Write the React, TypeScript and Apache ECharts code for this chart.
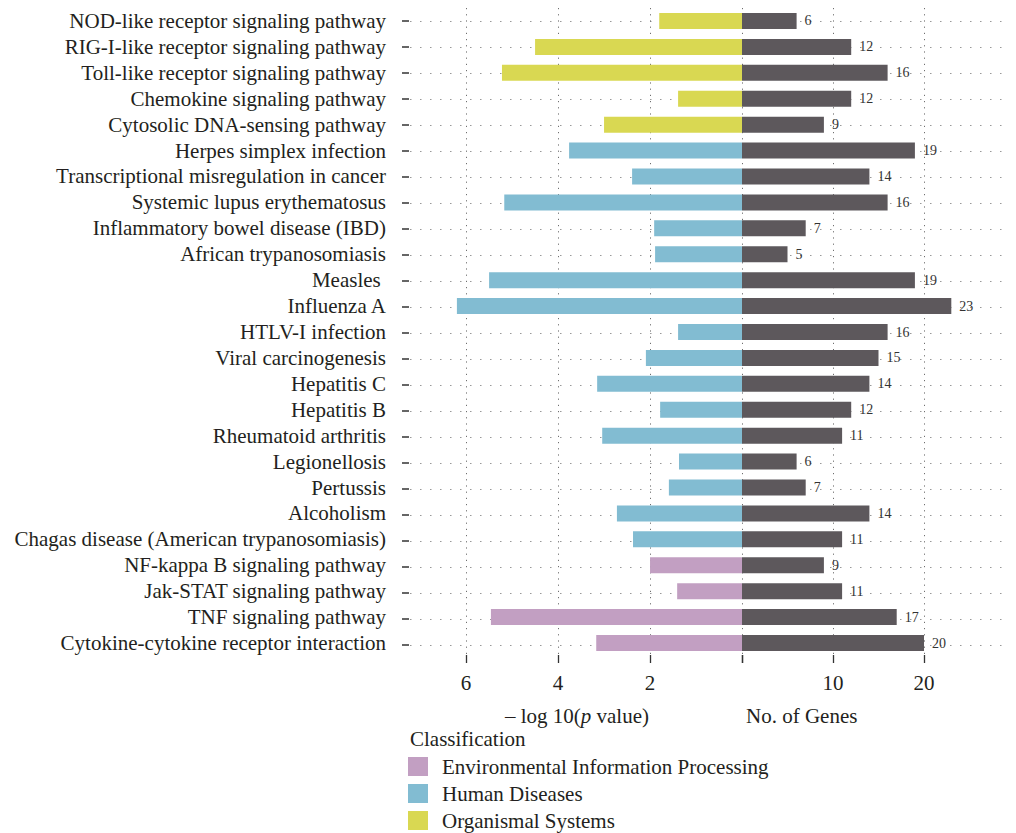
import React, { useEffect, useRef } from 'react';
import * as echarts from 'echarts';

// KEGG pathways, top to bottom
const categories = [
  'NOD-like receptor signaling pathway',
  'RIG-I-like receptor signaling pathway',
  'Toll-like receptor signaling pathway',
  'Chemokine signaling pathway',
  'Cytosolic DNA-sensing pathway',
  'Herpes simplex infection',
  'Transcriptional misregulation in cancer',
  'Systemic lupus erythematosus',
  'Inflammatory bowel disease (IBD)',
  'African trypanosomiasis',
  'Measles ',
  'Influenza A',
  'HTLV-I infection',
  'Viral carcinogenesis',
  'Hepatitis C',
  'Hepatitis B',
  'Rheumatoid arthritis',
  'Legionellosis',
  'Pertussis',
  'Alcoholism',
  'Chagas disease (American trypanosomiasis)',
  'NF-kappa B signaling pathway',
  'Jak-STAT signaling pathway',
  'TNF signaling pathway',
  'Cytokine-cytokine receptor interaction',
];

// 0 = Environmental Information Processing, 1 = Human Diseases, 2 = Organismal Systems
const classOf = [2, 2, 2, 2, 2, 1, 1, 1, 1, 1, 1, 1, 1, 1, 1, 1, 1, 1, 1, 1, 1, 0, 0, 0, 0];

const negLogP = [
  1.8, 4.5, 5.22, 1.39, 3.0, 3.76, 2.39, 5.17, 1.91, 1.89, 5.5, 6.2, 1.39,
  2.09, 3.15, 1.78, 3.04, 1.37, 1.59, 2.72, 2.37, 2.0, 1.41, 5.46, 3.17,
];

const geneCounts = [6, 12, 16, 12, 9, 19, 14, 16, 7, 5, 19, 23, 16, 15, 14, 12, 11, 6, 7, 14, 11, 9, 11, 17, 20];

const classNames = ['Environmental Information Processing', 'Human Diseases', 'Organismal Systems'];
const classColors = ['#c29fc2', '#82bcd2', '#d9d852'];
const geneColor = '#5d585c';

const pTickLabels = [2, 4, 6];
const geneTickLabels = [10, 20];

// axis ranges and steps for the two panels
const pMax = 7.22;
const pStep = 2;
const geneMax = 28.9;
const geneStep = 10;

const FONT = '"Liberation Serif", "Times New Roman", serif';
const TEXT = '#231f20';

export default function App() {
  const ref = useRef<HTMLDivElement>(null);

  useEffect(() => {
    if (!ref.current) return;
    const chart = echarts.init(ref.current, undefined, { renderer: 'svg' });

    const dotted = { color: '#6f6f6f', width: 1, type: [1.2, 5] as number[] };
    const tickLine = { color: '#333', width: 1.3 };

    const classSeries = classNames.map((name, k) => ({
      name,
      type: 'bar',
      xAxisIndex: 0,
      yAxisIndex: 0,
      stack: 'p',
      barWidth: 16,
      z: 3,
      itemStyle: { color: classColors[k] },
      data: negLogP.map((v, i) => (classOf[i] === k ? v : '-')),
    }));

    const hiddenCategory = (gridIndex: number) => ({
      gridIndex,
      type: 'category',
      inverse: true,
      data: categories,
      axisLine: { show: false },
      axisTick: { show: false },
      axisLabel: { show: false },
      splitLine: { show: false },
    });

    // category axis whose lines pass through the middle of each row
    const rowLines = (gridIndex: number, lineStyle: object) => ({
      gridIndex,
      type: 'category',
      inverse: true,
      boundaryGap: false,
      data: categories,
      axisLine: { show: false },
      axisTick: { show: false },
      axisLabel: { show: false },
      splitLine: { show: true, interval: 0, lineStyle },
    });

    chart.setOption({
      animation: false,
      backgroundColor: '#ffffff',
      textStyle: { fontFamily: FONT },
      grid: [
        { left: 410, top: 8, width: 332, height: 648 },
        { left: 742, top: 8, width: 263, height: 648 },
        { left: 410, top: 21, width: 595, height: 624 },
        // short strips under the panels that carry the tick marks
        { left: 410, top: 655, width: 332, height: 8 },
        { left: 742, top: 655, width: 263, height: 8 },
        // strip left of the panel carrying the pathway tick marks
        { left: 402, top: 21, width: 7, height: 624 },
      ],
      xAxis: [
        {
          gridIndex: 0,
          type: 'value',
          inverse: true,
          min: 0,
          max: pMax,
          interval: pStep,
          axisLine: { show: false },
          axisTick: { show: false },
          axisLabel: {
            customValues: pTickLabels,
            fontSize: 21,
            fontFamily: FONT,
            color: TEXT,
            margin: 16,
          },
          splitLine: { show: true, showMaxLine: false, lineStyle: dotted },
        },
        {
          gridIndex: 1,
          type: 'value',
          min: 0,
          max: geneMax,
          interval: geneStep,
          axisLine: { show: false },
          axisTick: { show: false },
          axisLabel: {
            customValues: geneTickLabels,
            fontSize: 21,
            fontFamily: FONT,
            color: TEXT,
            margin: 16,
          },
          splitLine: { show: true, showMinLine: false, showMaxLine: false, lineStyle: dotted },
        },
        { gridIndex: 2, type: 'value', show: false },
        {
          gridIndex: 3,
          type: 'value',
          inverse: true,
          min: 0,
          max: pMax,
          interval: pStep,
          axisLine: { show: false },
          axisTick: { show: false },
          axisLabel: { show: false },
          splitLine: { show: true, showMaxLine: false, lineStyle: tickLine },
        },
        {
          gridIndex: 4,
          type: 'value',
          min: 0,
          max: geneMax,
          interval: geneStep,
          axisLine: { show: false },
          axisTick: { show: false },
          axisLabel: { show: false },
          splitLine: { show: true, showMaxLine: false, lineStyle: tickLine },
        },
        { gridIndex: 5, type: 'value', show: false },
      ],
      yAxis: [
        {
          gridIndex: 0,
          type: 'category',
          inverse: true,
          data: categories,
          axisLine: { show: false },
          axisTick: { show: false },
          axisLabel: { interval: 0, fontSize: 21, fontFamily: FONT, color: TEXT, margin: 24 },
          splitLine: { show: false },
        },
        hiddenCategory(1),
        rowLines(2, { color: '#999', width: 1, type: [1.5, 8.5] }),
        hiddenCategory(3),
        hiddenCategory(4),
        rowLines(5, { color: '#333', width: 1.5 }),
      ],
      legend: {
        data: classNames,
        orient: 'vertical',
        left: 408,
        top: 756,
        height: 120,
        padding: 0,
        icon: 'rect',
        itemWidth: 20,
        itemHeight: 19,
        itemGap: 6,
        selectedMode: false,
        textStyle: { fontSize: 21, fontFamily: FONT, color: TEXT, lineHeight: 19, padding: [0, 0, 0, 9] },
      },
      graphic: [
        {
          type: 'text',
          left: 410,
          top: 728,
          style: { text: 'Classification', fontSize: 21, fontFamily: FONT, fill: TEXT },
        },
        {
          type: 'text',
          x: 577,
          y: 716,
          style: {
            text: '{a|– log 10(}{i|p}{a| value)}',
            align: 'center',
            verticalAlign: 'middle',
            fill: TEXT,
            rich: {
              a: { fontSize: 21, fontFamily: FONT, fill: TEXT },
              i: { fontSize: 21, fontFamily: FONT, fontStyle: 'italic', fill: TEXT },
            },
          },
        },
        {
          type: 'text',
          x: 746,
          y: 716,
          style: {
            text: 'No. of Genes',
            fontSize: 21,
            fontFamily: FONT,
            fill: TEXT,
            align: 'left',
            verticalAlign: 'middle',
          },
        },
      ],
      series: [
        ...classSeries,
        {
          name: 'No. of Genes',
          type: 'bar',
          xAxisIndex: 1,
          yAxisIndex: 1,
          barWidth: 16,
          z: 3,
          itemStyle: { color: geneColor },
          label: {
            show: true,
            position: 'right',
            distance: 8,
            fontSize: 14,
            fontFamily: FONT,
            color: '#333',
          },
          data: geneCounts,
        },
      ],
    });

    return () => chart.dispose();
  }, []);

  return (
    <div
      ref={ref}
      style={{ position: 'fixed', left: 0, top: 0, width: 1016, height: 833, background: '#fff' }}
    />
  );
}
